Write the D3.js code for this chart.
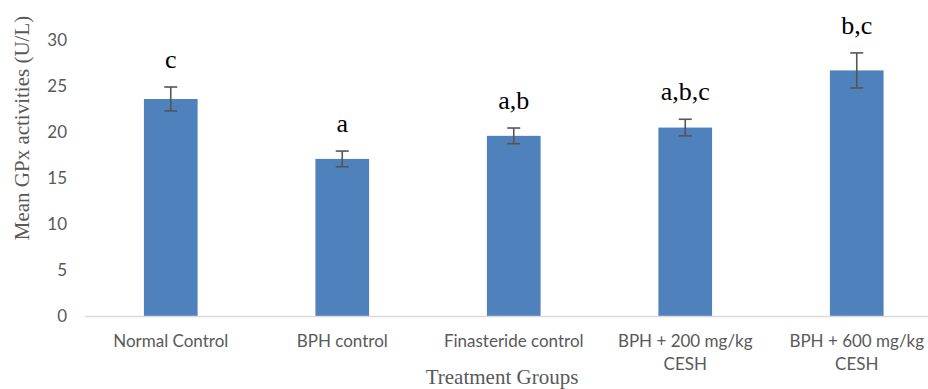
<!DOCTYPE html>
<html><head><meta charset="utf-8">
<script src="https://cdn.jsdelivr.net/npm/d3@7"></script>
<style>body{margin:0;background:#fff}svg{display:block}</style>
</head><body>
<svg id="c" width="928" height="389"></svg>
<script>
const categories = [["Normal Control"], ["BPH control"], ["Finasteride control"], ["BPH + 200 mg/kg", "CESH"], ["BPH + 600 mg/kg", "CESH"]];
const means = [23.6, 17.1, 19.6, 20.5, 26.7];
const errors = [1.3, 0.85, 0.85, 0.9, 1.9];
const letters = ["c", "a", "a,b", "a,b,c", "b,c"];
const yTicks = [0, 5, 10, 15, 20, 25, 30];

const svg = d3.select("#c");
const x = d3.scaleBand().domain(d3.range(categories.length)).range([85, 942.5]).paddingInner(0.687).paddingOuter(0.3435);
const y = d3.scaleLinear().domain([0, 30]).range([316.5, 40]);
const sans = "Lato, 'Open Sans', sans-serif";
const serif = "'Liberation Serif', 'Times New Roman', serif";
const grey = "#595959";

// bars
svg.selectAll("rect.bar").data(means).join("rect")
  .attr("x", (d, i) => x(i)).attr("width", x.bandwidth())
  .attr("y", d => y(d)).attr("height", d => y(0) - y(d))
  .attr("fill", "#4F81BD");

// baseline
svg.append("line").attr("x1", 85).attr("x2", 928).attr("y1", y(0)).attr("y2", y(0))
  .attr("stroke", "#d9d9d9").attr("stroke-width", 1.5);

// error bars
const eg = svg.append("g").attr("stroke", "#555").attr("stroke-width", 1.6);
means.forEach((m, i) => {
  const cx = x(i) + x.bandwidth() / 2;
  eg.append("line").attr("x1", cx).attr("x2", cx).attr("y1", y(m + errors[i])).attr("y2", y(m - errors[i]));
  [m + errors[i], m - errors[i]].forEach(v => eg.append("line").attr("x1", cx - 6.5).attr("x2", cx + 6.5).attr("y1", y(v)).attr("y2", y(v)));
});

// letters
svg.selectAll("text.let").data(letters).join("text")
  .attr("x", (d, i) => x(i) + x.bandwidth() / 2)
  .attr("y", (d, i) => y(means[i] + errors[i]) - 19)
  .attr("text-anchor", "middle").attr("font-family", serif).attr("font-size", 26).attr("fill", "#000")
  .text(d => d);

// y axis tick labels
const yAxis = d3.axisLeft(y).tickValues(yTicks).tickSize(0).tickPadding(0);
const yg = svg.append("g").attr("transform", "translate(67,0)").call(yAxis);
yg.select(".domain").remove();
yg.selectAll("text").attr("font-family", sans).attr("font-size", 17).attr("fill", grey);

// x axis labels
const xl = svg.append("g");
categories.forEach((lines, i) => {
  const t = xl.append("text").attr("x", x(i) + x.bandwidth() / 2).attr("y", 347)
    .attr("text-anchor", "middle").attr("font-family", sans).attr("font-size", 17).attr("fill", grey);
  lines.forEach((l, j) => t.append("tspan").attr("x", x(i) + x.bandwidth() / 2).attr("dy", j ? 23 : 0).text(l));
});

// titles
svg.append("text").attr("transform", "translate(29,128) rotate(-90)").attr("text-anchor", "middle")
  .attr("font-family", serif).attr("font-size", 21).attr("fill", grey).text("Mean GPx activities (U/L)");
svg.append("text").attr("x", 502).attr("y", 384).attr("text-anchor", "middle")
  .attr("font-family", serif).attr("font-size", 21).attr("fill", grey).text("Treatment Groups");
</script>
</body></html>
